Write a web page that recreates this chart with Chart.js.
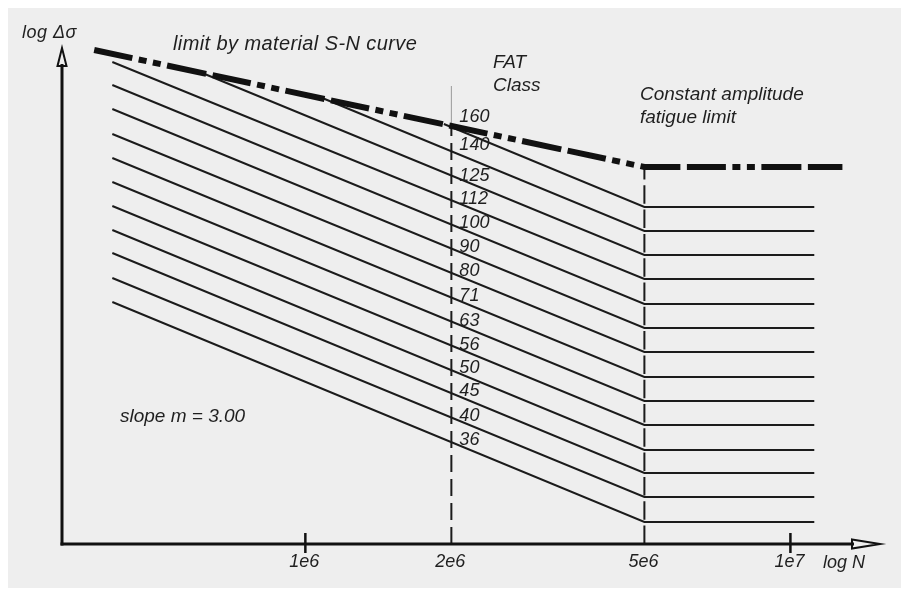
<!DOCTYPE html>
<html>
<head>
<meta charset="utf-8">
<title>FAT classes – S-N curves</title>
<script src="https://cdn.jsdelivr.net/npm/chart.js@4/dist/chart.umd.min.js"></script>
<style>
  html, body { margin: 0; padding: 0; background: #ffffff; }
  canvas { display: block; }
</style>
</head>
<body>
<canvas id="sn" width="903" height="594"></canvas>
<script>
// FAT classes (stress range at 2e6 cycles)
const fatClasses   = [160, 140, 125, 112, 100, 90, 80, 71, 63, 56, 50, 45, 40, 36];
// where each curve begins (cycles) and its relative log Δσ level there
const startCycles  = [1.93e6, 1.09e6, 6.13e5, 4.0e5, 4.0e5, 4.0e5, 4.0e5, 4.0e5, 4.0e5, 4.0e5, 4.0e5, 4.0e5, 4.0e5, 4.0e5];
const startLevels  = [84.0, 89.1, 94.2, 96.4, 91.8, 87.0, 82.0, 77.2, 72.4, 67.6, 62.8, 58.2, 53.2, 48.4];
// constant amplitude fatigue limit level of each class (from the knee on)
const kneeLevels   = [67.4, 62.6, 57.8, 53.0, 48.0, 43.2, 38.4, 33.4, 28.6, 23.8, 18.8, 14.2, 9.4, 4.4];
const kneeCycles   = 5e6;
const endCycles    = 1.12e7;

// limit given by the material S-N curve
const materialCycles = [3.67e5, 5e6, 1.28e7];
const materialLevels = [98.8, 75.4, 75.4];

// reference verticals
const refCycles    = [2e6, 5e6];
const refTopLevels = [83.7, 75.4];
const guideTopLevel = 91.6;

// x axis ticks
const tickValues = [1e6, 2e6, 5e6, 1e7];
const tickLabels = ['1e6', '2e6', '5e6', '1e7'];
const markedTicks = [1e6, 1e7];

const INK = '#1b1b1b';
const TEXT = '#1f1f1f';
const FONT = '"Liberation Sans", Arial, sans-serif';

const datasets = [];

// thick dash-dot material limit
datasets.push({
  data: materialCycles.map((n, i) => ({ x: n, y: materialLevels[i] })),
  borderColor: '#111111',
  borderWidth: 6,
  borderDash: [39, 6.5, 8, 6.5, 8, 6.5, 40, 6.5],
  showLine: true, pointRadius: 0, tension: 0, order: 0
});

// one polyline per FAT class
fatClasses.forEach((fat, i) => {
  datasets.push({
    label: 'FAT ' + fat,
    data: [
      { x: startCycles[i], y: startLevels[i] },
      { x: kneeCycles, y: kneeLevels[i] },
      { x: endCycles, y: kneeLevels[i] }
    ],
    borderColor: INK,
    borderWidth: 1.9,
    showLine: true, pointRadius: 0, tension: 0, order: 2
  });
});

// dashed verticals at 2e6 and 5e6 (drawn upward from the axis)
refCycles.forEach((n, i) => {
  datasets.push({
    data: [{ x: n, y: 0 }, { x: n, y: refTopLevels[i] }],
    borderColor: INK,
    borderWidth: 2,
    borderDash: i === 0 ? [17, 7] : [18.5, 5.8],
    showLine: true, pointRadius: 0, order: 3
  });
});
// thin guide above the material curve at 2e6
datasets.push({
  data: [{ x: refCycles[0], y: refTopLevels[0] }, { x: refCycles[0], y: guideTopLevel }],
  borderColor: '#9a9a9a',
  borderWidth: 1,
  showLine: true, pointRadius: 0, order: 4
});

const paperPlugin = {
  id: 'paper',
  beforeDraw(chart) {
    const ctx = chart.ctx;
    ctx.save();
    ctx.fillStyle = '#ffffff';
    ctx.fillRect(0, 0, chart.width, chart.height);
    ctx.fillStyle = '#eeeeee';
    ctx.fillRect(8, 8, chart.width - 10, chart.height - 14);
    ctx.restore();
  }
};

function text(ctx, str, x, y, size, align, spacing) {
  ctx.font = 'italic ' + size + 'px ' + FONT;
  ctx.textAlign = align || 'left';
  ctx.textBaseline = 'middle';
  ctx.letterSpacing = (spacing || 0) + 'px';
  ctx.fillText(str, x, y);
  ctx.letterSpacing = '0px';
}

const annotatePlugin = {
  id: 'annotate',
  afterDatasetsDraw(chart) {
    const ctx = chart.ctx;
    const xs = chart.scales.x, ys = chart.scales.y;
    const area = chart.chartArea;
    const x0 = area.left, y0 = area.bottom;
    ctx.save();
    ctx.strokeStyle = '#111111';
    ctx.fillStyle = TEXT;

    // y axis with open arrow
    ctx.lineWidth = 3;
    ctx.beginPath();
    ctx.moveTo(x0, y0 + 1.5);
    ctx.lineTo(x0, area.top + 20);
    ctx.stroke();
    ctx.lineWidth = 2;
    ctx.beginPath();
    ctx.moveTo(x0 - 4.5, area.top + 22);
    ctx.lineTo(x0, area.top + 4);
    ctx.lineTo(x0 + 4.5, area.top + 22);
    ctx.closePath();
    ctx.stroke();

    // x axis with open arrow
    ctx.lineWidth = 3;
    ctx.beginPath();
    ctx.moveTo(x0 - 1.5, y0);
    ctx.lineTo(area.right - 26, y0);
    ctx.stroke();
    ctx.lineWidth = 2;
    ctx.beginPath();
    ctx.moveTo(area.right - 28, y0 - 4.5);
    ctx.lineTo(area.right, y0);
    ctx.lineTo(area.right - 28, y0 + 4.5);
    ctx.closePath();
    ctx.stroke();

    // tick marks and labels
    ctx.lineWidth = 2.5;
    markedTicks.forEach(v => {
      const px = xs.getPixelForValue(v);
      ctx.beginPath();
      ctx.moveTo(px, y0 - 11);
      ctx.lineTo(px, y0 + 9);
      ctx.stroke();
    });
    tickValues.forEach((v, i) => {
      text(ctx, tickLabels[i], xs.getPixelForValue(v) - 1, y0 + 18, 18, 'center');
    });
    text(ctx, 'log N', area.right - 57, y0 + 19, 18, 'left');
    text(ctx, 'log \u0394\u03c3', 22, 33, 18, 'left', 0.5);

    // FAT class labels along the 2e6 line
    const xRef = xs.getPixelForValue(refCycles[0]);
    const nudge = [-10, -6, 0, -1, -2, -2, -2, -2, -1, -1, -2, -2, -2, -2];
    fatClasses.forEach((fat, i) => {
      const xa = xs.getPixelForValue(startCycles[i]), ya = ys.getPixelForValue(startLevels[i]);
      const xb = xs.getPixelForValue(kneeCycles), yb = ys.getPixelForValue(kneeLevels[i]);
      const yAt = ya + (yb - ya) * (xRef - xa) / (xb - xa);
      text(ctx, String(fat), xRef + 8, yAt + nudge[i], 18, 'left');
    });

    text(ctx, 'limit by material S-N curve', 173, 44, 20, 'left', 0.4);
    text(ctx, 'FAT', 493, 63, 19, 'left');
    text(ctx, 'Class', 493, 86, 19, 'left');
    text(ctx, 'Constant amplitude', 640, 95, 19, 'left');
    text(ctx, 'fatigue limit', 640, 118, 19, 'left');
    text(ctx, 'slope m = 3.00', 120, 417, 19, 'left');
    ctx.restore();
  }
};

new Chart(document.getElementById('sn'), {
  type: 'scatter',
  data: { datasets },
  options: {
    responsive: false,
    animation: false,
    devicePixelRatio: 1,
    layout: { padding: { left: 62, right: 23, top: 44, bottom: 50 } },
    scales: {
      x: { type: 'logarithmic', min: 3.15e5, max: 1.53e7, display: false },
      y: { type: 'linear', min: 0, max: 100, display: false }
    },
    plugins: { legend: { display: false }, tooltip: { enabled: false } },
    elements: { point: { radius: 0 }, line: { borderCapStyle: 'butt' } }
  },
  plugins: [paperPlugin, annotatePlugin]
});
</script>
</body>
</html>
